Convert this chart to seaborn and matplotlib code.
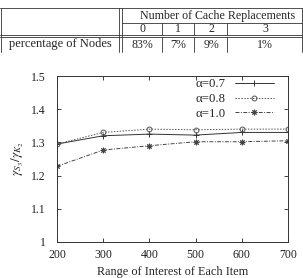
import pandas as pd
import matplotlib
matplotlib.use('Agg')
import matplotlib.pyplot as plt
import seaborn as sns

# data
ranges = [200, 300, 400, 500, 600, 700]
a07 = [1.295, 1.320, 1.325, 1.322, 1.330, 1.330]
a08 = [1.295, 1.330, 1.340, 1.338, 1.340, 1.340]
a10 = [1.228, 1.277, 1.290, 1.302, 1.302, 1.305]
series_names = ['α=0.7', 'α=0.8', 'α=1.0']
yticks = [1.0, 1.1, 1.2, 1.3, 1.4, 1.5]
ytick_labels = ['1', '1.1', '1.2', '1.3', '1.4', '1.5']

table_header = 'Number of Cache Replacements'
replacements = ['0', '1', '2', '3']
row_label = 'percentage of Nodes'
percentages = ['83%', '7%', '9%', '1%']

sns.set_style('ticks')
plt.rcParams['font.family'] = ['Liberation Serif', 'DejaVu Serif']
plt.rcParams['mathtext.fontset'] = 'stix'

W, H = 303, 278
fig = plt.figure(figsize=(W / 100, H / 100), dpi=100)
ax = fig.add_axes([57 / W, 1 - 242 / H, 231 / W, 166 / H])

styles = [
    dict(color='#333333', linestyle='-', marker='+', markersize=4.5),
    dict(color='#555555', linestyle=(0, (1.5, 1.5)), marker='o', markersize=3.5,
         markerfacecolor='none'),
    dict(color='#444444', linestyle=(0, (4, 1.5, 1, 1.5)), marker=(8, 2, 0), markersize=4),
]
for vals, name, st in zip([a07, a08, a10], series_names, styles):
    sns.lineplot(x=ranges, y=vals, label=name, linewidth=0.7,
                 markeredgewidth=0.7, markeredgecolor=st['color'], ax=ax, **st)

ax.set_xlim(200, 700)
ax.set_ylim(1.0, 1.5)
ax.set_xticks(ranges)
ax.set_yticks(yticks)
ax.set_yticklabels(ytick_labels)
ax.tick_params(direction='in', top=True, right=True, labelsize=8.5, length=3,
               width=0.6, colors='#222222')
ax.tick_params(axis='x', pad=5)
ax.tick_params(axis='y', pad=8)
for s in ax.spines.values():
    s.set_linewidth(0.7)
    s.set_color('#333333')
ax.set_xlabel('Range of Interest of Each Item', fontsize=8.8, labelpad=4)
ax.set_ylabel(r'$\gamma_{S_3}/\gamma_{K_2}$', fontsize=9.5, labelpad=4)

ax.legend(loc='upper right', bbox_to_anchor=(0.94, 0.985), frameon=False,
          markerfirst=False, fontsize=9.2, handlelength=3.1, labelspacing=0.2,
          borderaxespad=0, borderpad=0, handletextpad=0.7)

# table above the plot
def fx(x):
    return x / W

def fy(y):
    return 1 - y / H

def hline(y, x0, x1):
    fig.add_artist(plt.Line2D([fx(x0), fx(x1)], [fy(y), fy(y)], color='#333333', lw=0.6))

def vline(x, y0, y1):
    fig.add_artist(plt.Line2D([fx(x), fx(x)], [fy(y0), fy(y1)], color='#333333', lw=0.6))

hline(8.3, 0, 303)
hline(22.7, 122.3, 303)
hline(35, 0, 303)
hline(37.3, 0, 303)
vline(0.6, 8.3, 52)
vline(302.4, 8.3, 52)
vline(119, 8.3, 52)
vline(122.3, 8.3, 52)
for x in [162, 194.3, 227.3]:
    vline(x, 22.7, 35)
    vline(x, 37.3, 52)

fig.text(fx(218), fy(15.5), table_header, ha='center', va='center', fontsize=8.6)
centers = [142, 178, 211, 265]
for c, r, p in zip(centers, replacements, percentages):
    fig.text(fx(c), fy(29), r, ha='center', va='center', fontsize=8.6)
    fig.text(fx(c), fy(44.5), p, ha='center', va='center', fontsize=8.6)
fig.text(fx(60), fy(44.5), row_label, ha='center', va='center', fontsize=9)

fig.savefig('out.png', dpi=100)
